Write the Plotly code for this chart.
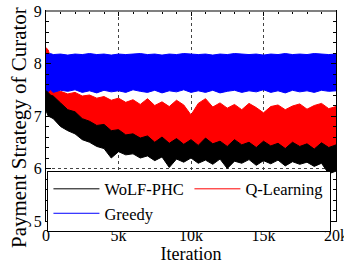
import plotly.graph_objects as go

# Iteration grid at which the band envelopes were read
iters = [0, 150, 300, 500, 1000, 1500, 2000, 2500, 3000, 3500, 4000, 4500, 5000,
         5500, 6000, 6500, 7000, 7500, 8000, 8500, 9000, 9500, 10000, 10500, 11000,
         11500, 12000, 12500, 13000, 13500, 14000, 14500, 15000, 15500, 16000, 16500,
         17000, 17500, 18000, 18500, 19000, 19500, 20000]

greedy_hi = [8.18, 8.17, 8.19, 8.17, 8.18, 8.16, 8.18, 8.17, 8.19, 8.17, 8.18, 8.16, 8.18,
             8.17, 8.18, 8.19, 8.17, 8.18, 8.16, 8.18, 8.17, 8.19, 8.18, 8.17, 8.18, 8.16,
             8.18, 8.17, 8.19, 8.18, 8.17, 8.18, 8.16, 8.18, 8.17, 8.19, 8.17, 8.18, 8.17,
             8.19, 8.18, 8.17, 8.18]
greedy_lo = [7.48, 7.46, 7.50, 7.45, 7.49, 7.47, 7.50, 7.45, 7.48, 7.44, 7.49, 7.46, 7.48,
             7.45, 7.50, 7.47, 7.45, 7.49, 7.44, 7.48, 7.46, 7.50, 7.45, 7.48, 7.45, 7.49,
             7.44, 7.47, 7.49, 7.45, 7.48, 7.46, 7.50, 7.45, 7.48, 7.44, 7.49, 7.46, 7.48,
             7.45, 7.49, 7.47, 7.48]

qlearn_hi = [8.30, 8.26, 8.12, 7.48, 7.47, 7.42, 7.45, 7.38, 7.40, 7.34, 7.37, 7.30, 7.34,
             7.26, 7.31, 7.22, 7.33, 7.20, 7.27, 7.18, 7.30, 7.21, 7.02, 7.24, 7.33, 7.17,
             7.25, 7.15, 7.22, 7.12, 7.24, 7.16, 7.06, 7.18, 7.21, 7.12, 7.19, 7.23, 7.13,
             7.20, 7.24, 7.14, 7.18]
qlearn_lo = [7.30, 7.25, 7.20, 7.15, 7.05, 6.95, 6.88, 6.78, 6.72, 6.65, 6.62, 6.55, 6.55,
             6.48, 6.48, 6.42, 6.45, 6.35, 6.42, 6.32, 6.40, 6.30, 6.38, 6.28, 6.40, 6.30,
             6.35, 6.26, 6.38, 6.28, 6.33, 6.25, 6.35, 6.27, 6.31, 6.22, 6.33, 6.26, 6.30,
             6.21, 6.32, 6.24, 6.28]

wolf_hi = [7.48, 7.45, 7.40, 7.38, 7.25, 7.12, 7.08, 6.95, 6.90, 6.82, 6.84, 6.72, 6.74,
           6.64, 6.66, 6.58, 6.62, 6.50, 6.60, 6.48, 6.57, 6.46, 6.55, 6.44, 6.58, 6.47,
           6.52, 6.42, 6.55, 6.45, 6.50, 6.40, 6.52, 6.43, 6.48, 6.38, 6.50, 6.42, 6.47,
           6.37, 6.49, 6.40, 6.45]
wolf_lo = [7.10, 7.00, 6.98, 6.95, 6.80, 6.72, 6.66, 6.55, 6.50, 6.42, 6.38, 6.20, 6.32,
           6.26, 6.28, 6.20, 6.24, 6.15, 6.22, 6.02, 6.18, 6.12, 6.20, 6.10, 6.16, 6.08,
           6.18, 6.00, 6.14, 6.10, 6.17, 6.06, 6.15, 6.09, 6.16, 6.05, 6.13, 6.08, 6.12,
           6.04, 6.10, 5.90, 5.95]

x_tick_vals = [0, 5000, 10000, 15000, 20000]
x_tick_text = ["0", "5k", "10k", "15k", "20k"]

series = [  # draw order: red, blue, black
    ("Q-Learning", qlearn_hi, qlearn_lo, "#ff0000", 2),
    ("Greedy", greedy_hi, greedy_lo, "#0000ff", 3),
    ("WoLF-PHC", wolf_hi, wolf_lo, "#000000", 1),
]

FONT = "Liberation Serif, DejaVu Serif, serif"
fig = go.Figure()
for name, hi, lo, col, rank in series:
    fig.add_trace(go.Scatter(
        x=iters + iters[::-1], y=hi + lo[::-1], fill="toself", fillcolor=col,
        mode="lines", line=dict(color=col, width=1), showlegend=False, hoverinfo="skip"))
for name, hi, lo, col, rank in series:
    fig.add_trace(go.Scatter(
        x=[None], y=[None], mode="lines", name=name, legendrank=rank,
        line=dict(color=col, width=1)))

axis_common = dict(
    showline=True, linecolor="black", linewidth=1, mirror="ticks",
    ticks="inside", ticklen=5, tickcolor="black",
    showgrid=True, griddash="dot", gridcolor="#444444", gridwidth=1,
    zeroline=False, automargin=False, ticklabeloverflow="allow",
    tickfont=dict(family=FONT, size=16, color="black"),
)

fig.update_layout(
    width=344, height=266,
    margin=dict(l=46, r=8, t=11, b=45),
    plot_bgcolor="white", paper_bgcolor="white",
    font=dict(family=FONT, color="black"),
    xaxis=dict(range=[0, 20000], tickvals=x_tick_vals, ticktext=x_tick_text,
               minor=dict(dtick=1000, ticks="inside", ticklen=3, tickcolor="black", showgrid=False),
               title=dict(text="Iteration", font=dict(family=FONT, size=18), standoff=2),
               **axis_common),
    yaxis=dict(range=[5, 9], dtick=1,
               minor=dict(dtick=0.2, ticks="inside", ticklen=3, tickcolor="black", showgrid=False),
               **axis_common),
    annotations=[dict(text="Payment Strategy of Curator", textangle=-90,
                      xref="paper", yref="paper", x=-0.093, y=0.443,
                      xanchor="center", yanchor="middle", showarrow=False,
                      font=dict(family=FONT, size=21, color="black"))],
    legend=dict(orientation="h", x=0.005, y=0.24, xanchor="left", yanchor="top",
                bgcolor="white", bordercolor="black", borderwidth=1,
                font=dict(family=FONT, size=16.5), entrywidth=80, tracegroupgap=0,
                itemwidth=46, traceorder="normal"),
    shapes=[dict(type="line", xref="paper", yref="paper", x0=0, x1=1, y0=1, y1=1,
                 line=dict(color="#808080", width=2), layer="above")],
)

fig.write_html("out.html", config={"displayModeBar": False},
               post_script="document.body.style.margin='0';")
